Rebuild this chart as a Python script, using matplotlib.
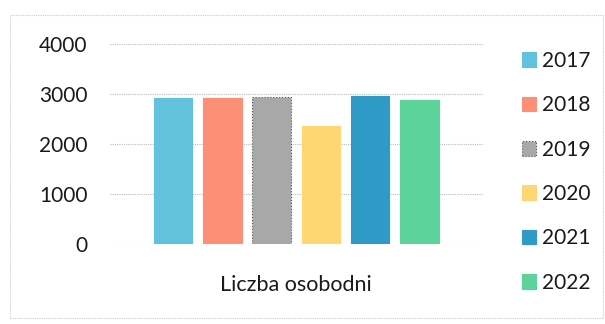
import matplotlib.pyplot as plt
from matplotlib.patches import Rectangle, Patch

# data
years = ["2017", "2018", "2019", "2020", "2021", "2022"]
values = [2920, 2930, 2940, 2370, 2965, 2890]
colors = ["#62c1dc", "#fd8f76", "#a8a8a8", "#fed772", "#2f9ac6", "#5dd39c"]
category = "Liczba osobodni"
yticks = [0, 1000, 2000, 3000, 4000]

plt.rcParams["font.family"] = ["Lato", "DejaVu Sans"]

fig = plt.figure(figsize=(6.05, 3.24), dpi=100)
ax = fig.add_axes([0.1818, 0.2469, 0.6165, 0.6173])

x = list(range(len(years)))
for i in x:
    edge = "#555555" if years[i] == "2019" else colors[i]
    ls = ":" if years[i] == "2019" else "-"
    ax.bar(i, values[i], width=0.78, color=colors[i], edgecolor=edge,
           linestyle=ls, linewidth=0.8, zorder=3)

ax.set_xlim(-1.28, 6.29)
ax.set_ylim(0, 4000)
ax.set_yticks(yticks)
ax.set_yticklabels([str(v) for v in yticks], fontsize=15, color="#1a1a1a")
ax.set_xticks([])
ax.tick_params(axis="y", length=0, pad=16)
ax.grid(axis="y", color="#bbbbbb", linestyle=(0, (1, 1)), linewidth=0.8, zorder=0)
for s in ax.spines.values():
    s.set_visible(False)

fig.text(0.489, 0.12, category, ha="center", va="center", fontsize=15.5, color="#1a1a1a")

handles = [Patch(facecolor=colors[i], edgecolor="#555555" if years[i] == "2019" else colors[i],
                 linestyle=":" if years[i] == "2019" else "-", linewidth=0.8) for i in x]
fig.legend(handles, years, loc="upper left", bbox_to_anchor=(0.845, 0.875),
           frameon=False, fontsize=15, handlelength=0.7, handleheight=0.7,
           handletextpad=0.3, labelspacing=1.17, borderpad=0, labelcolor="#1a1a1a")

# faint frame around the chart
fig.patches.append(Rectangle((0.017, 0.02), 0.98, 0.934, transform=fig.transFigure,
                             fill=False, edgecolor="#cccccc", linestyle=(0, (1, 1)),
                             linewidth=0.8))

fig.savefig("out.png", dpi=100)
